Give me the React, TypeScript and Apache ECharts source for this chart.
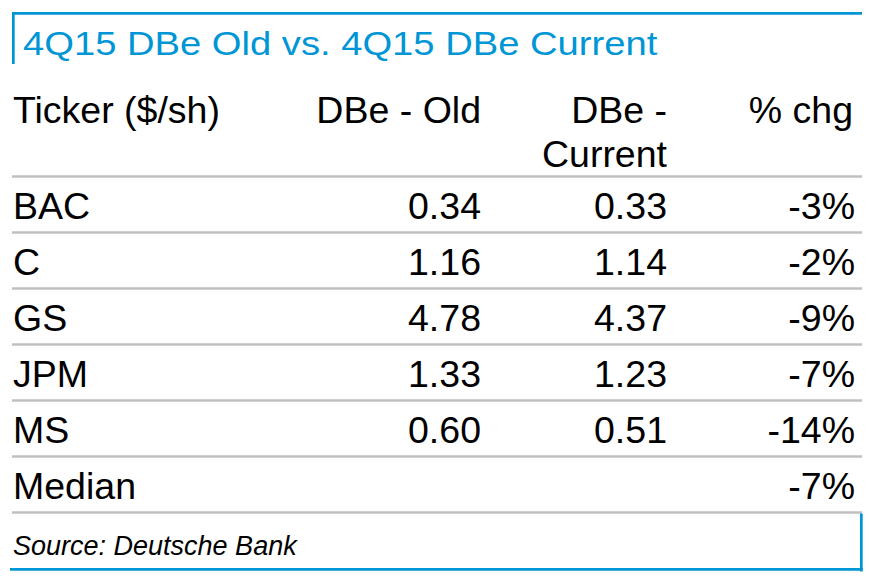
import React, { useEffect, useRef } from "react";
import * as echarts from "echarts";

const title = "4Q15 DBe Old vs. 4Q15 DBe Current";
const headers = ["Ticker ($/sh)", "DBe - Old", "DBe -\nCurrent", "% chg"];
const tickers = ["BAC", "C", "GS", "JPM", "MS", "Median"];
const dbeOld: (number | null)[] = [0.34, 1.16, 4.78, 1.33, 0.6, null];
const dbeCurrent: (number | null)[] = [0.33, 1.14, 4.37, 1.23, 0.51, null];
const pctChg: number[] = [-3, -2, -9, -7, -14, -7];
const source = "Source: Deutsche Bank";

const BLUE = "#0096d6";
const GRAY = "#c0c0c0";
const FONT = "'Liberation Sans', Arial, Helvetica, sans-serif";

function txt(text: string, x: number, y: number, align: string, size: number, extra: any = {}) {
  return {
    type: "text",
    x,
    y,
    ...(extra.el || {}),
    style: {
      text,
      fill: extra.fill || "#000",
      fontSize: size,
      fontFamily: FONT,
      fontStyle: extra.fontStyle || "normal",
      align,
      verticalAlign: "middle",
      textAlign: align,
      textVerticalAlign: "middle",
    },
  };
}

export default function App() {
  const ref = useRef<HTMLDivElement>(null);
  useEffect(() => {
    if (!ref.current) return;
    const chart = echarts.init(ref.current, null, { renderer: "svg" });
    const left = 12;
    const right = 862;
    const colRight = [0, 481, 667, 853];
    const top = 176.5;
    const rowH = 56;
    const fs = 37.5;
    const els: any[] = [];
    // title frame
    els.push({ type: "rect", shape: { x: left, y: 12, width: right - left, height: 2.7 }, style: { fill: BLUE } });
    els.push({ type: "rect", shape: { x: left, y: 12, width: 2.7, height: 52 }, style: { fill: BLUE } });
    els.push(txt(title, 23, 43.5, "left", 33, { fill: BLUE, el: { scaleX: 1.157 } }));
    // headers
    els.push(txt(headers[0], 13, 110, "left", fs));
    els.push(txt(headers[1], colRight[1], 110, "right", fs));
    const h2 = headers[2].split("\n");
    els.push(txt(h2[0], colRight[2], 110, "right", fs));
    els.push(txt(h2[1], colRight[2], 154, "right", fs));
    els.push(txt(headers[3], colRight[3], 110, "right", fs));
    // lines
    for (let i = 0; i <= tickers.length; i++) {
      els.push({ type: "rect", shape: { x: left, y: top + i * rowH - 1.25, width: right - left, height: 2.5 }, style: { fill: GRAY } });
    }
    tickers.forEach((t, i) => {
      const y = top + i * rowH + rowH / 2 + 1.5;
      els.push(txt(t, 13, y, "left", fs));
      const o = dbeOld[i];
      const c = dbeCurrent[i];
      if (o != null) els.push(txt(o.toFixed(2), colRight[1], y, "right", fs));
      if (c != null) els.push(txt(c.toFixed(2), colRight[2], y, "right", fs));
      els.push(txt(pctChg[i] + "%", colRight[3] + 2, y, "right", fs));
    });
    // source box
    const bottomY = top + tickers.length * rowH;
    els.push({ type: "rect", shape: { x: 860, y: bottomY + 1, width: 2.7, height: 570.5 - bottomY }, style: { fill: BLUE } });
    els.push({ type: "rect", shape: { x: 10, y: 568, width: 852.7, height: 2.8 }, style: { fill: BLUE } });
    els.push(txt(source, 13, 546, "left", 27, { fontStyle: "italic" }));

    chart.setOption({
      animation: false,
      backgroundColor: "#fff",
      graphic: { elements: els },
    });
    return () => chart.dispose();
  }, []);
  return <div ref={ref} style={{ position: "absolute", left: 0, top: 0, width: 869, height: 580 }} />;
}
